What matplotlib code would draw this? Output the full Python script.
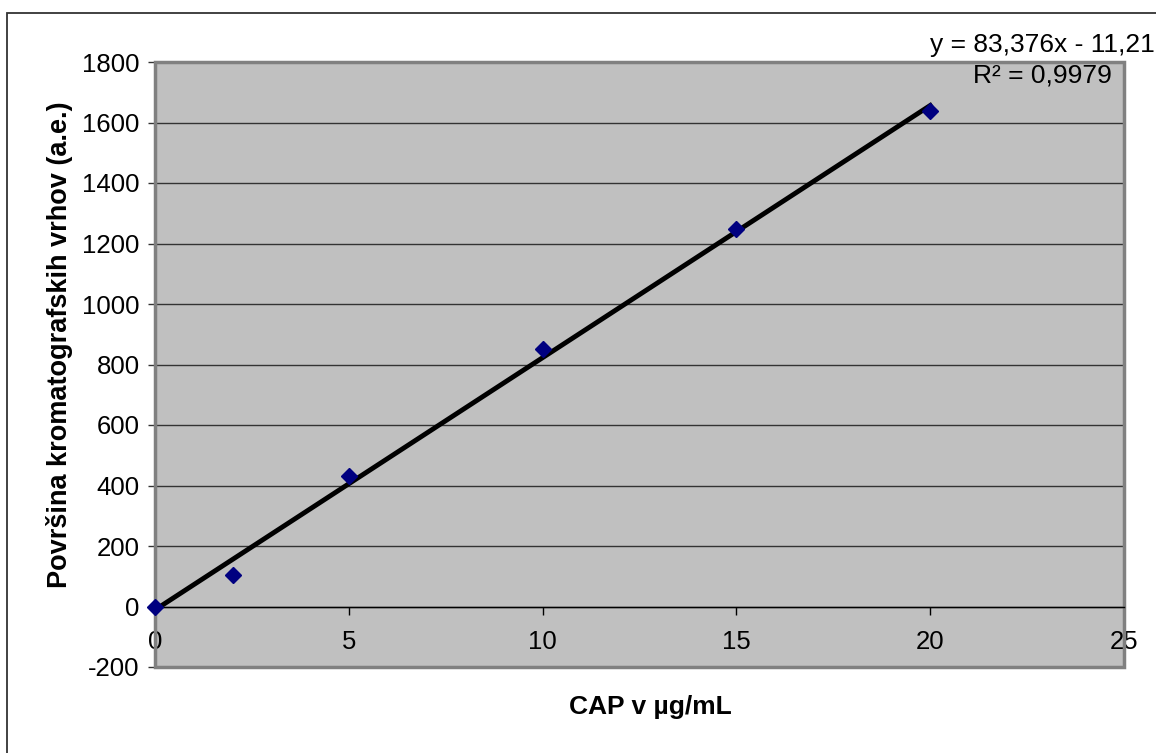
import matplotlib.pyplot as plt
from matplotlib.patches import Rectangle
import numpy as np

plt.rcParams['font.family'] = ['Liberation Sans', 'DejaVu Sans']
plt.rcParams['axes.unicode_minus'] = False

# calibration data
conc = [0, 2, 5, 10, 15, 20]
area = [0, 103, 433, 852, 1247, 1638]
slope = 83.376
intercept = -11.21
r2 = 0.9979

x_ticks = [0, 5, 10, 15, 20, 25]
y_ticks = [-200, 0, 200, 400, 600, 800, 1000, 1200, 1400, 1600, 1800]

fig = plt.figure(figsize=(11.56, 7.53), dpi=100)
ax = fig.add_axes([155 / 1156, 1 - 667 / 753, 969 / 1156, 605 / 753])
ax.set_facecolor('#c0c0c0')

# outer chart border
fig.patches.append(Rectangle((7 / 1156, -0.1), 1.2, 1.1 - 13 / 753, transform=fig.transFigure,
                             fill=False, edgecolor='#333333', lw=1.3))

ax.set_xlim(0, 25)
ax.set_ylim(-200, 1800)
ax.set_xticks(x_ticks)
ax.set_yticks(y_ticks)
ax.yaxis.grid(True, color='#333333', lw=1)
ax.set_axisbelow(True)

for s in ['left', 'right', 'top']:
    ax.spines[s].set_visible(False)
ax.spines['bottom'].set_position(('data', 0))
ax.spines['bottom'].set_color('black')
ax.spines['bottom'].set_linewidth(1)
ax.add_patch(Rectangle((0, 0), 1, 1, transform=ax.transAxes, fill=False,
                       edgecolor='#808080', lw=2.5, clip_on=False, zorder=1))

ax.tick_params(axis='x', direction='out', length=6, width=1, labelsize=18.5, pad=11)
ax.tick_params(axis='y', direction='out', length=5, width=1, color='#333333', labelsize=18.5, pad=6)

# trendline
xs = np.array([conc[0], conc[-1]])
ax.plot(xs, slope * xs + intercept, color='black', lw=3.5, zorder=3, clip_on=False)
ax.plot(conc, area, linestyle='none', marker='D', markersize=8, color='#000080', zorder=4, clip_on=False)

fig.text(1155 / 1156, 1 - 45 / 753, 'y = 83,376x - 11,21', ha='right', va='center', fontsize=19)
fig.text(1112 / 1156, 1 - 76 / 753, 'R² = 0,9979', ha='right', va='center', fontsize=19)

fig.text(650 / 1156, 1 - 707 / 753, 'CAP v µg/mL', ha='center', va='center', fontsize=19, fontweight='bold')
fig.text(60 / 1156, 1 - 345 / 753, 'Površina kromatografskih vrhov (a.e.)', ha='center', va='center',
         rotation=90, fontsize=19.5, fontweight='bold')

fig.savefig('out.png', dpi=100)
